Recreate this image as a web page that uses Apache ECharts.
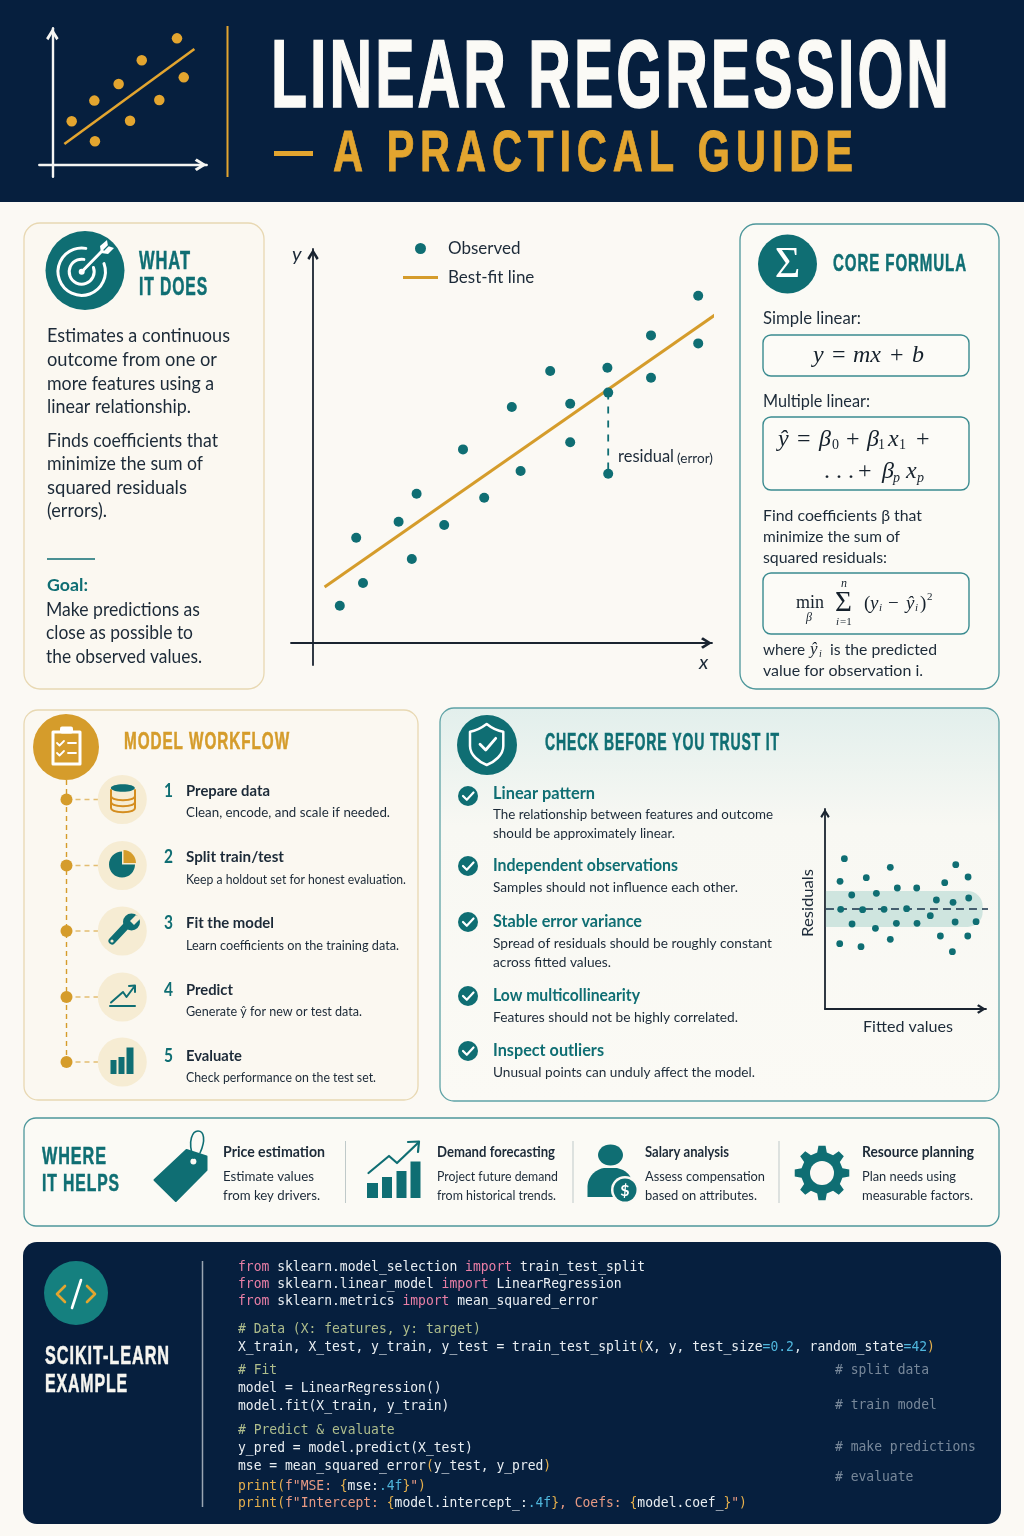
<!DOCTYPE html>
<html><head><meta charset="utf-8">
<style>html,body{margin:0;padding:0;background:#fbf9f4}#c{width:1024px;height:1536px}</style>
<script src="https://cdn.jsdelivr.net/npm/echarts@6/dist/echarts.min.js"></script>
</head><body><div id="c"></div>
<script>
// ---------- chart values ----------
const headerX=[1.29,2.84,2.8,5.18,4.42,7.13,5.96,8.76,8.31];
const headerY=[2.89,1.56,4.27,2.93,5.38,4.31,6.96,5.82,8.42];
const headerLineX=[0.8,9.47];
const headerLineY=[1.38,7.71];
const observedX=[0.67,1.08,1.25,2.14,2.47,2.59,3.28,3.75,4.28,4.97,5.19,5.93,6.43,6.43,7.36,7.38,7.38,8.45,8.45,9.63,9.63];
const observedY=[0.93,2.63,1.5,3.03,2.1,3.73,2.95,4.84,3.63,5.9,4.3,6.8,5.98,5.02,6.88,6.26,4.23,7.69,6.63,8.68,7.49];
const fitX=[0.29,10.09];
const fitY=[1.4,8.23];
const residualSegX=[7.38,7.38];
const residualSegY=[6.26,4.23];
const fittedX=[1.21,0.94,1.67,0.98,1.69,0.92,2.25,2.35,2.58,3.21,3.15,3.69,4.08,4.52,4.46,4.08,5.1,5.73,5.75,6.58,6.96,7.21,7.48,8.0,8.17,8.13,7.96,8.98,8.94,8.92,9.44];
const residualsY=[5.03,2.77,1.4,-0.03,-1.5,-3.47,-3.77,-0.07,3.13,1.57,-1.93,-0.03,4.17,2.1,-1.43,-3.03,0.03,2.1,-1.43,-0.67,0.9,-2.7,2.63,0.67,4.43,-1.3,-4.27,1.1,3.2,-2.7,-1.27];
const zeroLineX=[0.06,10.2];
const zeroLineY=[0,0];
const bandRange=[0.06,9.85,-1.8,1.8];
const legendNames=['Observed','Best-fit line'];

// ---------- palette ----------
const NAVY='#061f3e',TEAL='#0f6e73',GOLD='#d59c2b',INK='#1c2a38',CREAM='#f6ecd3',BG='#fbf9f4';
const HGOLD='#e3a52f';
const SANS='Lato, "Open Sans", sans-serif',COND='"Liberation Sans Narrow", "Liberation Sans", sans-serif',SERIF='"Liberation Serif", serif',MONO='"DejaVu Sans Mono", monospace';

// ---------- letter spacing for the condensed headings ----------
const LS={};
['fillText','strokeText'].forEach(fn=>{const orig=CanvasRenderingContext2D.prototype[fn];
 CanvasRenderingContext2D.prototype[fn]=function(t,x,y,m){
  const s=LS[t];if('letterSpacing' in this)this.letterSpacing=s?s+'px':'0px';
  return m===undefined?orig.call(this,t,x,y):orig.call(this,t,x,y,m);};});

// ---------- text helpers ----------
const mctx=document.createElement('canvas').getContext('2d');
const g=[];
function T(text,x,y,o){o=o||{};
  const font=(o.italic?'italic ':'')+(o.weight||'normal')+' '+(o.size||16)+'px '+(o.font||SANS);
  const el={type:'text',x:x,y:y,silent:true,style:{text:text,font:font,fill:o.color||INK,textAlign:o.align||'left',textVerticalAlign:'middle'}};
  if(o.ls){LS[text]=o.ls;}
  if(o.w){mctx.font=font;if('letterSpacing' in mctx)mctx.letterSpacing=(o.ls||0)+'px';el.scaleX=o.w/mctx.measureText(text).width;}
  if(o.rot){el.rotation=o.rot;}
  if(o.stroke){el.style.stroke=o.color;el.style.lineWidth=o.stroke;}
  g.push(el);return el;
}
function Lines(arr,o){arr.forEach(a=>T(a[0],a[1],a[2],Object.assign({},o,{w:a[3]})));}
function H(text,x,y,w,size,color){T(text,x,y+size*0.08,{w:w,size:size,color:color,weight:'bold',font:COND,ls:1.4,stroke:0.5});}
function Card(x,y,w,h,r,stroke,fill){g.push({type:'rect',silent:true,shape:{x:x,y:y,width:w,height:h,r:r},style:{fill:fill,stroke:stroke,lineWidth:1.3}});}
function Rule(x1,y1,x2,y2,c,lw,dash){g.push({type:'line',silent:true,shape:{x1:x1,y1:y1,x2:x2,y2:y2},style:{stroke:c,lineWidth:lw,lineDash:dash||null}});}

// ---------- header ----------
g.push({type:'rect',silent:true,shape:{x:0,y:0,width:1024,height:1536},style:{fill:BG}});
g.push({type:'rect',silent:true,shape:{x:0,y:0,width:1024,height:202},style:{fill:NAVY}});
Rule(227.5,26,227.5,177,HGOLD,2);
T('LINEAR REGRESSION',271,81,{size:96,weight:'bold',font:COND,color:'#fbfaf6',w:681,ls:5,stroke:1.6});
g.push({type:'rect',silent:true,shape:{x:274,y:151,width:39,height:5},style:{fill:HGOLD}});
T('A PRACTICAL GUIDE',333,155.5,{size:57,weight:'bold',font:COND,color:HGOLD,w:526,ls:8,stroke:0.8});

// ---------- what it does ----------
Card(24,223,240,466,16,'#e8d8b2','#fbf8f1');
H('WHAT',139,260,52,25,TEAL);H('IT DOES',139,286,69,25,TEAL);
Lines([['Estimates a continuous',47,336,183],['outcome from one or',47,360,170],['more features using a',47,384,167],['linear relationship.',47,407,144],
['Finds coefficients that',47,441,171],['minimize the sum of',47,464,156],['squared residuals',47,488,140],['(errors).',47,511,60],
['Make predictions as',46,610,154],['close as possible to',46,633,147],['the observed values.',46,657,156]],{size:18.5});
Rule(47,559,95,559,TEAL,1.6);
T('Goal:',47,586,{size:17,weight:'bold',color:TEAL,w:41});

// ---------- main chart text ----------
T('y',292,255,{size:20,italic:true,color:INK});
T('x',699,663,{size:20,italic:true,color:INK});
T('residual',618,457,{size:16.5,w:56});
T('(error)',677,458,{size:14,w:36});

// ---------- core formula ----------
Card(740,224,259,465,16,'#4d979b','#fbfaf5');
H('CORE FORMULA',833,263,134,23,TEAL);
T('Simple linear:',763,319,{size:17,w:98});
T('Multiple linear:',763,402,{size:17,w:107});
[[763,335,206,41],[763,417,206,73],[763,573,206,61]].forEach(b=>g.push({type:'rect',silent:true,shape:{x:b[0],y:b[1],width:b[2],height:b[3],r:8},style:{fill:'#fcfbf7',stroke:'#3a8b90',lineWidth:1.4}}));
function F(t,x,y,s,it){T(t,x,y,{size:s,font:SERIF,italic:it!==false,color:'#16212c'});}
function R(t,x,y,s){F(t,x,y,s,false);}
const fs=24;
F('y',813,356,fs);R('=',832,356,fs);F('mx',853,356,fs);R('+',890,356,fs);F('b',912,356,fs);
F('ŷ',778,440,fs);R('=',797,440,fs);F('β',819,440,fs);R('0',832,445,14);R('+',846,440,fs);F('β',867,440,fs);R('1',878,445,14);F('x',888,440,fs);R('1',899,445,14);R('+',916,440,fs);
R('. . .',824,472,fs);R('+',858,472,fs);F('β',882,472,fs);F('p',893,478,14);F('x',906,472,fs);F('p',917,478,14);
R('min',796,603,18);F('β',806,618,12);R('Σ',835,603,29);F('n',841,584,12);F('i',836,622,11);R('=1',840,622,11);
R('(',864,604,19);F('y',870,604,19);F('i',879,608,11);R('−',888,604,19);F('ŷ',906,604,19);F('i',915,608,11);R(')',920,604,19);R('2',927,597,11);
Lines([['Find coefficients β that',763,516,159],['minimize the sum of',763,537,137],['squared residuals:',763,558,124],['where',763,650,42],['is the predicted',830,650,107],['value for observation i.',763,671,160]],{size:16});
F('ŷ',810,650,17);F('i',819,654,10);

// ---------- model workflow ----------
Card(24,710,394,390,14,'#e8d8b2','#fbf8f1');
H('MODEL WORKFLOW',124,741,166,23,GOLD);
const wfY=[799.5,865.5,931,997,1062];
Rule(66.5,780,66.5,1062,GOLD,1.4,[5,4]);
wfY.forEach(y=>{Rule(66.5,y,98,y,'#e3bd72',1.4,[5,4]);});
const wf=[['1','Prepare data',84,'Clean, encode, and scale if needed.',204,791,813],
['2','Split train/test',98,'Keep a holdout set for honest evaluation.',220,857,880],
['3','Fit the model',88,'Learn coefficients on the training data.',213,923,946],
['4','Predict',47,'Generate ŷ for new or test data.',176,990,1012],
['5','Evaluate',56,'Check performance on the test set.',190,1056,1078]];
wf.forEach(r=>{T(r[0],164,r[5],{size:18,weight:'bold',color:TEAL,w:9});
 T(r[1],186,r[5],{size:15.5,weight:'bold',color:INK,w:r[2]});
 T(r[3],186,r[6],{size:13.5,color:INK,w:r[4]});});

// ---------- check before you trust it ----------
g.push({type:'rect',silent:true,shape:{x:440,y:708,width:559,height:393,r:14},style:{stroke:'#5fa3a6',lineWidth:1.3,fill:{type:'linear',x:0,y:0,x2:0,y2:1,colorStops:[{offset:0,color:'#e2efec'},{offset:.3,color:'#f8f8f3'},{offset:1,color:'#fbfaf5'}]}}});
H('CHECK BEFORE YOU TRUST IT',545,742,235,23,TEAL);
const chk=[['Linear pattern',102,794,'The relationship between features and outcome',280,814],
['Independent observations',185,866,'Samples should not influence each other.',245,887],
['Stable error variance',149,922,'Spread of residuals should be roughly constant',279,943],
['Low multicollinearity',147,996,'Features should not be highly correlated.',245,1017],
['Inspect outliers',111,1051,'Unusual points can unduly affect the model.',262,1072]];
chk.forEach(r=>{T(r[0],493,r[2],{size:16.5,weight:'bold',color:TEAL,w:r[1]});T(r[3],493,r[5],{size:14,w:r[4]});});
T('should be approximately linear.',493,833,{size:14,w:182});
T('across fitted values.',493,962,{size:14,w:118});
T('Residuals',808,903,{size:16,w:68,align:'center',rot:Math.PI/2});
T('Fitted values',863,1027,{size:16,w:90});

// ---------- where it helps ----------
Card(24,1118,975,108,12,'#4d979b','#fbfaf5');
H('WHERE',42,1155,65,24,TEAL);H('IT HELPS',42,1182,78,24,TEAL);
const uses=[[223,'Price estimation',102,'Estimate values',91,'from key drivers.',97],
[437,'Demand forecasting',118,'Project future demand',121,'from historical trends.',119],
[645,'Salary analysis',84,'Assess compensation',120,'based on attributes.',112],
[862,'Resource planning',112,'Plan needs using',94,'measurable factors.',111]];
uses.forEach(u=>{T(u[1],u[0],1152,{size:14.5,weight:'bold',w:u[2]});T(u[3],u[0],1176,{size:14,w:u[4]});T(u[5],u[0],1195,{size:14,w:u[6]});});
[345.5,573,779].forEach(x=>Rule(x,1141,x,1203,'#bfc9c9',1));

// ---------- code card ----------
g.push({type:'rect',silent:true,shape:{x:23,y:1242,width:978,height:282,r:14},style:{fill:NAVY}});
H('SCIKIT-LEARN',45,1355,125,25,'#f6f5f0');H('EXAMPLE',45,1383,83,25,'#f6f5f0');
Rule(202.5,1261,202.5,1507,'#9aa6b3',1.5);
const CC={k:'#ea7fa6',n:'#e9eef2',c:'#aebd8c',g:'#78889a',v:'#4fb6dc',p:'#e6b04c',s:'#e89a84'};
const code=[[1266,[['k','from'],['n',' sklearn.model_selection '],['k','import'],['n',' train_test_split']]],
[1283,[['k','from'],['n',' sklearn.linear_model '],['k','import'],['n',' LinearRegression']]],
[1300,[['k','from'],['n',' sklearn.metrics '],['k','import'],['n',' mean_squared_error']]],
[1328,[['c','# Data (X: features, y: target)']]],
[1346,[['n','X_train, X_test, y_train, y_test = train_test_split'],['p','('],['n','X, y, test_size'],['v','=0.2'],['n',', random_state'],['v','=42'],['p',')']]],
[1369,[['c','# Fit']]],
[1387,[['n','model = LinearRegression()']]],
[1405,[['n','model.fit(X_train, y_train)']]],
[1429,[['c','# Predict & evaluate']]],
[1447,[['n','y_pred = model.predict(X_test)']]],
[1465,[['n','mse = mean_squared_error'],['p','('],['n','y_test, y_pred'],['p',')']]],
[1485,[['p','print('],['s','f"MSE: '],['p','{'],['n','mse:'],['v','.4f'],['p','}'],['s','"'],['p',')']]],
[1502,[['p','print('],['s','f"Intercept: '],['p','{'],['n','model.intercept_:'],['v','.4f'],['p','}'],['s',', Coefs: '],['p','{'],['n','model.coef_'],['p','}'],['s','"'],['p',')']]]];
const CW=7.83,CS=14,CSX=CW/(CS*0.602);
function Mono(t,x,y,c){const e=T(t,x,y+1.5,{size:CS,font:MONO,color:c});e.scaleX=CSX;}
code.forEach(l=>{let col=0;l[1].forEach(t=>{Mono(t[1],238+col*CW,l[0],CC[t[0]]);col+=t[1].length;});});
[['# split data',1369],['# train model',1404],['# make predictions',1446],['# evaluate',1476]].forEach(c=>Mono(c[0],835,c[1],CC.g));

// ---------- icons ----------
const ic=[];
function C(cx,cy,r,fill,stroke,lw){ic.push({type:'circle',shape:{cx:cx,cy:cy,r:r},style:{fill:fill||'none',stroke:stroke||null,lineWidth:lw||0}});}
function P(d,fill,stroke,lw){ic.push({type:'path',shape:{pathData:d},style:{fill:fill||'none',stroke:stroke||null,lineWidth:lw||0,lineCap:'round',lineJoin:'round'}});}
function Re(x,y,w,h,fill,r){ic.push({type:'rect',shape:{x:x,y:y,width:w,height:h,r:r||0},style:{fill:fill}});}
function arc(cx,cy,r,a0,a1){const d=Math.PI/180,x0=cx+r*Math.cos(a0*d),y0=cy+r*Math.sin(a0*d),x1=cx+r*Math.cos(a1*d),y1=cy+r*Math.sin(a1*d);
 return 'M'+x0+' '+y0+' A'+r+' '+r+' 0 '+((a1-a0)>180?1:0)+' 1 '+x1+' '+y1;}
// target
C(85,270.5,39.5,TEAL);
P(arc(81.7,271.7,23.7,-20,280),null,'#fff',3);
P(arc(81.7,271.7,12.5,-20,280),null,'#fff',3);
C(81.7,271.7,3,'#fff');
P('M82 271.5 L103 250',null,'#fff',3);
P('M100 246 L101 253 L108 254 L114 248 L108 246 L107 240 Z','#fff');
P('M104 250 L110 244',null,TEAL,1.2);
// sigma
C(787.5,264,29.5,TEAL);
ic.push({type:'text',x:787.5,y:265,style:{text:'Σ',font:'44px '+SERIF,fill:'#fff',textAlign:'center',textVerticalAlign:'middle'}});
// clipboard
C(66,747,33,GOLD);
P('M53 732 H80 V764 H53 Z',null,'#fff',3);
Re(60,726.5,13,7,'#fff',2);
P('M57 743 L59.5 745.5 L64 741 M57 753 L59.5 755.5 L64 751',null,'#fff',1.8);
P('M68 743 H76 M68 753 H76',null,'#fff',1.8);
// workflow bubbles
wfY.forEach(y=>{C(66.5,y,6,GOLD);C(122.3,y,24.5,CREAM);});
// database
ic.push({type:'ellipse',shape:{cx:122.8,cy:788,rx:12,ry:3.8},style:{fill:TEAL}});
P('M111 790 V808 C111 813.5 135 813.5 135 808 V790 M111 796 C111 801.5 135 801.5 135 796 M111 802 C111 807.5 135 807.5 135 802',null,'#d48d1f',2);
// pie
P('M122 851.5 A13 13 0 1 0 135 864.5 L122 864.5 Z',TEAL);
P('M123.5 850 A13 13 0 0 1 136 863 L123.5 863 Z',GOLD);
// wrench
P('M112 941 L127 925',null,TEAL,7);
C(131.5,922,8.5,TEAL);
P('M130 921 L136 915 L141 918 L134 925 Z',CREAM);
C(112,941,1.6,CREAM);
// predict
P('M111 1002.5 L123 992 L126.5 997 L134 987',null,TEAL,2);
P('M129 986 L135 985.5 L135 992',null,TEAL,2);
P('M110 1006 H135',null,TEAL,2);
// bars
Re(110.5,1060,6,14,TEAL);Re(118.5,1057,6,17,TEAL);Re(126.5,1047.5,7,26.5,TEAL);
// shield
C(487,745,30,TEAL);
P('M486.7 724 C480 729 475 731 470 731.7 L470 746 C470 755 479 762 486.7 765 C494.4 762 503.3 755 503.3 746 L503.3 731.7 C498 731 493 729 486.7 724 Z',null,'#fff',2.5);
P('M480 744.3 L485.7 750 L495.7 738.3',null,'#fff',2.8);
// check bullets
[796,866,922,996,1051].forEach(y=>{C(468,y,10,TEAL);P('M463 '+y+' L466.8 '+(y+3.8)+' L473.5 '+(y-3.5),null,'#fff',2.2);});
// tag
P('M154.5 1180 L186.5 1150 L206.5 1156.5 L206.5 1170 L175.8 1201 Z',TEAL,TEAL,2);
C(193.4,1161.5,3,BG);
P('M193.4 1158 C187 1140 193 1131 198 1131 C204 1131 206 1140 200 1153',null,TEAL,1.6);
// demand chart
Re(367,1183,11,15,TEAL);Re(382,1177,10,21,TEAL);Re(396.5,1171,10,27,TEAL);Re(410.5,1161.5,10,36.5,TEAL);
P('M368.5 1173 L389 1156 L397 1163 L419 1142',null,TEAL,2.2);
P('M408 1142 L419 1141.5 L418 1152',null,TEAL,2.2);
// person
ic.push({type:'ellipse',shape:{cx:610.5,cy:1155,rx:12.5,ry:10.5},style:{fill:TEAL}});
P('M587.5 1197 L587.5 1186 C588 1175 597 1169 604 1168 L617 1168 C626 1170 631 1175 632 1182 L620 1197 Z',TEAL);
C(625,1190,14,BG);C(625,1190,11.5,TEAL);
ic.push({type:'text',x:625,y:1190.5,style:{text:'$',font:'bold 16px '+SANS,fill:'#fff',textAlign:'center',textVerticalAlign:'middle'}});
// gear
(function(){const cx=822,cy=1173,ro=27.5,ri=21,n=8;let d='';
 for(let i=0;i<n;i++){const a=i*2*Math.PI/n-Math.PI/2,s=0.2,t=0.13;
  const pts=[[ri,a-s-0.03],[ro,a-t],[ro,a+t],[ri,a+s+0.03]];
  pts.forEach((p,j)=>{d+=((i===0&&j===0)?'M':'L')+(cx+p[0]*Math.cos(p[1]))+' '+(cy+p[0]*Math.sin(p[1]))+' ';});}
 P(d+'Z',TEAL);C(cx,cy,12,BG);})();
// code badge
C(76,1293,32,'#15807f');
P('M65 1286 L57 1294 L65 1302 M87 1286 L95 1294 L87 1302',null,HGOLD,2.6);
P('M81 1280 L72 1308',null,'#fff',2.6);

// ---------- chart pieces ----------
const chev='path://M5 0 L10 8 L8.2 9.6 L5 4.2 L1.8 9.6 L0 8 Z';
function mkAxis(gi,min,max,color,lw,onZero,size){return {gridIndex:gi,type:'value',min:min,max:max,splitLine:{show:false},axisTick:{show:false},axisLabel:{show:false},
 axisLine:{show:true,onZero:onZero,symbol:['none',chev],symbolSize:size,symbolOffset:[0,-size[1]/2],lineStyle:{color:color,width:lw}}};}
const pair=(a,b)=>a.map((v,i)=>[v,b[i]]);
const legendIcons={'Observed':'circle','Best-fit line':'path://M0 0L0 0M0 4H35V7H0ZM35 11L35 11'};
const option={
 animation:false,backgroundColor:'transparent',
 grid:[{left:39.3,top:28.3,width:167.4,height:148.4},{left:291,top:249,width:421,height:416},{left:825,top:809,width:161,height:200}],
 xAxis:[mkAxis(0,-0.87,10.29,'#f5f5f2',2.4,true,[16,12]),mkAxis(1,-0.55,9.975,'#1a2430',1.8,true,[12,11]),mkAxis(2,0,10.06,'#1a2430',1.8,false,[11,9])],
 yAxis:[mkAxis(0,-0.8,9.09,'#f5f5f2',2.4,true,[16,12]),mkAxis(1,-0.55,9.85,'#1a2430',1.8,true,[12,11]),mkAxis(2,-10,10,'#1a2430',1.8,false,[11,9])],
 legend:{left:403,top:240,padding:0,orient:'vertical',data:legendNames.map(n=>({name:n,icon:legendIcons[n]})),itemWidth:35,itemHeight:11,itemGap:12,selectedMode:false,textStyle:{fontFamily:'Lato',fontSize:17,color:INK,padding:[0,0,0,5]}},
 graphic:{elements:g},
 series:[
  {type:'custom',name:'icons',coordinateSystem:'none',data:[[0]],silent:true,z:1,renderItem:()=>({type:'group',children:ic})},
  {type:'line',name:'headerFit',xAxisIndex:0,yAxisIndex:0,data:pair(headerLineX,headerLineY),symbol:'none',lineStyle:{color:HGOLD,width:2.6},silent:true},
  {type:'scatter',name:'headerPoints',xAxisIndex:0,yAxisIndex:0,data:pair(headerX,headerY),symbolSize:10.5,itemStyle:{color:HGOLD,opacity:1},silent:true},
  {type:'line',name:'Best-fit line',xAxisIndex:1,yAxisIndex:1,data:pair(fitX,fitY),symbol:'none',clip:false,lineStyle:{color:GOLD,width:3},itemStyle:{color:GOLD},silent:true},
  {type:'line',name:'residual',xAxisIndex:1,yAxisIndex:1,data:pair(residualSegX,residualSegY),symbol:'none',lineStyle:{color:TEAL,width:1.8,type:[7,7]},silent:true},
  {type:'scatter',name:'Observed',xAxisIndex:1,yAxisIndex:1,data:pair(observedX,observedY),symbolSize:10,itemStyle:{color:TEAL,opacity:1},z:3,silent:true},
  {type:'custom',name:'band',xAxisIndex:2,yAxisIndex:2,data:[bandRange],encode:{x:[0,1],y:[2,3]},silent:true,
   renderItem:(p,api)=>{const a=api.coord([api.value(0),api.value(3)]),b=api.coord([api.value(1),api.value(2)]);
    return {type:'rect',shape:{x:a[0],y:a[1],width:b[0]-a[0],height:b[1]-a[1],r:[0,15,15,0]},style:{fill:'#cfe5df'}};}},
  {type:'line',name:'zero',xAxisIndex:2,yAxisIndex:2,data:pair(zeroLineX,zeroLineY),symbol:'none',clip:false,z:3,lineStyle:{color:'#17324a',width:1.5,type:[8,5]},silent:true},
  {type:'scatter',name:'residuals',xAxisIndex:2,yAxisIndex:2,data:pair(fittedX,residualsY),symbolSize:6.8,itemStyle:{color:TEAL,opacity:1},z:4,silent:true}
 ]};
const chart=echarts.init(document.getElementById('c'),null,{renderer:'canvas',width:1024,height:1536});
chart.setOption(option);
</script></body></html>
